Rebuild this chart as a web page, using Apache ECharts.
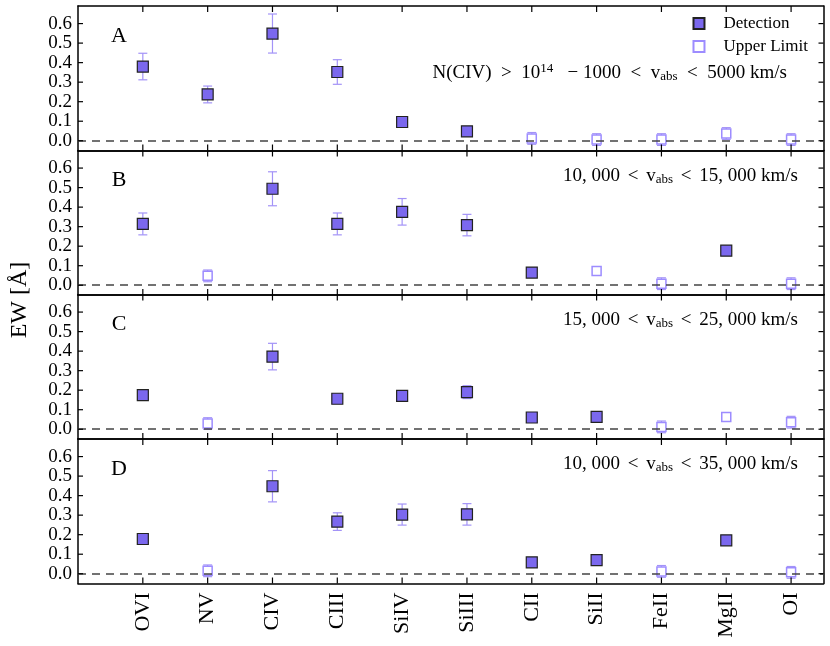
<!DOCTYPE html>
<html>
<head>
<meta charset="utf-8">
<script src="https://cdn.jsdelivr.net/npm/echarts@6/dist/echarts.min.js"></script>
<style>
  html, body { margin: 0; padding: 0; background: #fff; }
  #chart { width: 830px; height: 646px; }
</style>
</head>
<body>
<div id="chart"></div>
<script>
// ions along the x axis
const ions = ['OVI', 'NV', 'CIV', 'CIII', 'SiIV', 'SiIII', 'CII', 'SiII', 'FeII', 'MgII', 'OI'];
const yTicks = [0, 0.1, 0.2, 0.3, 0.4, 0.5, 0.6];

// EW values, errors and upper-limit flags (1 = upper limit) per panel
const ewA  = [0.380, 0.237, 0.549, 0.352, 0.096, 0.048, 0.012, 0.006, 0.006, 0.037, 0.006];
const errA = [0.068, 0.043, 0.100, 0.063, 0.010, 0.008, 0.030, 0.030, 0.030, 0.030, 0.030];
const limA = [0, 0, 0, 0, 0, 0, 1, 1, 1, 1, 1];

const ewB  = [0.314, 0.048, 0.494, 0.314, 0.376, 0.308, 0.065, 0.073, 0.008, 0.177, 0.008];
const errB = [0.056, 0.030, 0.087, 0.056, 0.068, 0.055, 0.008, 0.000, 0.030, 0.015, 0.030];
const limB = [0, 1, 0, 0, 0, 0, 0, 1, 1, 0, 1];

const ewC  = [0.175, 0.029, 0.372, 0.156, 0.171, 0.190, 0.060, 0.063, 0.012, 0.063, 0.036];
const errC = [0.022, 0.030, 0.068, 0.010, 0.020, 0.033, 0.005, 0.005, 0.030, 0.000, 0.030];
const limC = [0, 1, 0, 0, 0, 0, 0, 0, 1, 1, 1];

const ewD  = [0.178, 0.015, 0.448, 0.267, 0.303, 0.304, 0.058, 0.070, 0.012, 0.171, 0.007];
const errD = [0.022, 0.030, 0.080, 0.045, 0.054, 0.055, 0.005, 0.005, 0.030, 0.015, 0.030];
const limD = [0, 1, 0, 0, 0, 0, 0, 0, 1, 0, 1];

const panelLetters = ['A', 'B', 'C', 'D'];

const FONT = 'Liberation Serif';
const FILL = '#7b68ee';
const ERR = '#a393f7';

const panels = [
  { ew: ewA, err: errA, lim: limA },
  { ew: ewB, err: errB, lim: limB },
  { ew: ewC, err: errC, lim: limC },
  { ew: ewD, err: errD, lim: limD }
];

const chart = echarts.init(document.getElementById('chart'));

const tops = [6, 150.5, 294.5, 439];
const grids = [], xAxes = [], yAxes = [], series = [];

function errRender(params, api) {
  const x = api.value(0), y = api.value(1), e = api.value(2);
  if (!e) return null;
  const t = api.coord([x, y + e]), b = api.coord([x, y - e]);
  const hw = 4.5;
  const st = { stroke: ERR, lineWidth: 1.2 };
  return {
    type: 'group',
    children: [
      { type: 'line', shape: { x1: t[0], y1: t[1], x2: b[0], y2: b[1] }, style: st },
      { type: 'line', shape: { x1: t[0] - hw, y1: t[1], x2: t[0] + hw, y2: t[1] }, style: st },
      { type: 'line', shape: { x1: b[0] - hw, y1: b[1], x2: b[0] + hw, y2: b[1] }, style: st }
    ]
  };
}

// inward ticks on all four sides, placed through the axis scales
function tickRender(params, api) {
  const cs = params.coordSys;
  const st = { stroke: '#000', lineWidth: 1.2 };
  if (api.value(2) === 0) {
    const px = api.coord([api.value(0), 0])[0];
    const yb = cs.y + cs.height;
    return {
      type: 'group',
      children: [
        { type: 'line', shape: { x1: px, y1: cs.y, x2: px, y2: cs.y + 6 }, style: st },
        { type: 'line', shape: { x1: px, y1: yb, x2: px, y2: yb - 6 }, style: st }
      ]
    };
  }
  const py = api.coord([0, api.value(1)])[1];
  const xr = cs.x + cs.width;
  return {
    type: 'group',
    children: [
      { type: 'line', shape: { x1: cs.x, y1: py, x2: cs.x + 5, y2: py }, style: st },
      { type: 'line', shape: { x1: xr, y1: py, x2: xr - 5, y2: py }, style: st }
    ]
  };
}
const tickData = ions.map((_, k) => [k, 0, 0]).concat(yTicks.map(v => [0, v, 1]));

panels.forEach((p, i) => {
  grids.push({ left: 78, right: 6.5, top: tops[i], height: 144.5 });
  const axLine = () => ({ show: true, onZero: false, lineStyle: { color: '#000', width: 1.5 } });
  // x: min -1 is a multiple of interval 1, so ticks land on the ions
  ['bottom', 'top'].forEach(pos => {
    xAxes.push({
      type: 'value', gridIndex: i, position: pos, min: -1, max: 10.5, interval: 1,
      axisLine: axLine(), splitLine: { show: false }, axisTick: { show: false },
      axisLabel: {
        show: pos === 'bottom' && i === 3, rotate: 90, margin: 9,
        formatter: v => (v >= 0 ? ions[Math.round(v)] || '' : ''),
        fontFamily: FONT, fontSize: 22, color: '#000'
      }
    });
  });
  ['left', 'right'].forEach(pos => {
    yAxes.push({
      type: 'value', gridIndex: i, position: pos, min: -0.05, max: 0.69,
      axisLine: axLine(), splitLine: { show: false }, axisTick: { show: false },
      axisLabel: {
        show: pos === 'left', customValues: yTicks, formatter: v => v.toFixed(1), margin: 6,
        showMinLabel: true, showMaxLabel: true,
        fontFamily: FONT, fontSize: 19, color: '#000'
      }
    });
  });

  const xi = i * 2, yi = i * 2;
  const errData = p.ew.map((v, k) => [k, v, p.err[k]]);
  const det = [], up = [];
  p.ew.forEach((v, k) => { (p.lim[k] ? up : det).push([k, v]); });

  series.push({
    type: 'custom', xAxisIndex: xi, yAxisIndex: yi, renderItem: tickRender,
    data: tickData, z: 5, silent: true
  });
  series.push({
    type: 'custom', xAxisIndex: xi, yAxisIndex: yi, renderItem: errRender,
    data: errData, z: 2, silent: true,
    markLine: {
      silent: true, symbol: 'none', label: { show: false },
      lineStyle: { color: '#444', width: 1.5, type: [8, 6] },
      data: [{ yAxis: 0 }]
    }
  });
  series.push({
    name: 'Detection', type: 'scatter', xAxisIndex: xi, yAxisIndex: yi,
    symbol: 'rect', symbolSize: 11, data: det, z: 4,
    itemStyle: { color: FILL, borderColor: '#222', borderWidth: 1.2, opacity: 1 }
  });
  series.push({
    name: 'Upper Limit', type: 'scatter', xAxisIndex: xi, yAxisIndex: yi,
    symbol: 'rect', symbolSize: 9, data: up, z: 4,
    itemStyle: { color: '#fff', borderColor: '#9d8cff', borderWidth: 1.5, opacity: 1 }
  });
});

const subRich = {
  n: { fontFamily: FONT, fontSize: 19, color: '#000' },
  s: { fontFamily: FONT, fontSize: 12, color: '#000' },
  sub: { fontFamily: FONT, fontSize: 13, color: '#000', padding: [8, 0, 0, 0] },
  sup: { fontFamily: FONT, fontSize: 13, color: '#000', padding: [0, 0, 8, 0] }
};

function note(xr, y, str) {
  return {
    type: 'text', x: xr, y: y,
    style: { text: str, rich: subRich, font: '19px ' + FONT, fill: '#000', align: 'right', verticalAlign: 'middle' }
  };
}

const graphics = [
  note(787, 73, '{n|N(CIV)  >  10}{sup|14}{n|   \u2212 1000  <  v}{sub|abs}{n|  <  5000 km/s}'),
  note(798, 176, '{n|10, 000 }{s| }{n|< }{s| }{n|v}{sub|abs}{n| }{s| }{n|< }{s| }{n|15, 000 km/s}'),
  note(798, 320, '{n|15, 000 }{s| }{n|< }{s| }{n|v}{sub|abs}{n| }{s| }{n|< }{s| }{n|25, 000 km/s}'),
  note(798, 464, '{n|10, 000 }{s| }{n|< }{s| }{n|v}{sub|abs}{n| }{s| }{n|< }{s| }{n|35, 000 km/s}'),
  {
    type: 'text', x: 20, y: 300, rotation: Math.PI / 2,
    style: { text: 'EW [\u00c5]', font: '24px ' + FONT, fill: '#000', align: 'center', verticalAlign: 'middle' }
  }
];
panelLetters.forEach((l, i) => {
  graphics.push({
    type: 'text', x: 119, y: tops[i] + 30,
    style: { text: l, font: '22px ' + FONT, fill: '#000', align: 'center', verticalAlign: 'middle' }
  });
});

chart.setOption({
  animation: false,
  grid: grids,
  xAxis: xAxes,
  yAxis: yAxes,
  series: series,
  legend: {
    data: ['Detection', 'Upper Limit'],
    orient: 'vertical', right: 17, top: 10, itemGap: 6,
    itemWidth: 11, itemHeight: 11,
    textStyle: { fontFamily: FONT, fontSize: 17, color: '#000', padding: [0, 0, 0, 14] }
  },
  graphic: graphics
});
</script>
</body>
</html>
